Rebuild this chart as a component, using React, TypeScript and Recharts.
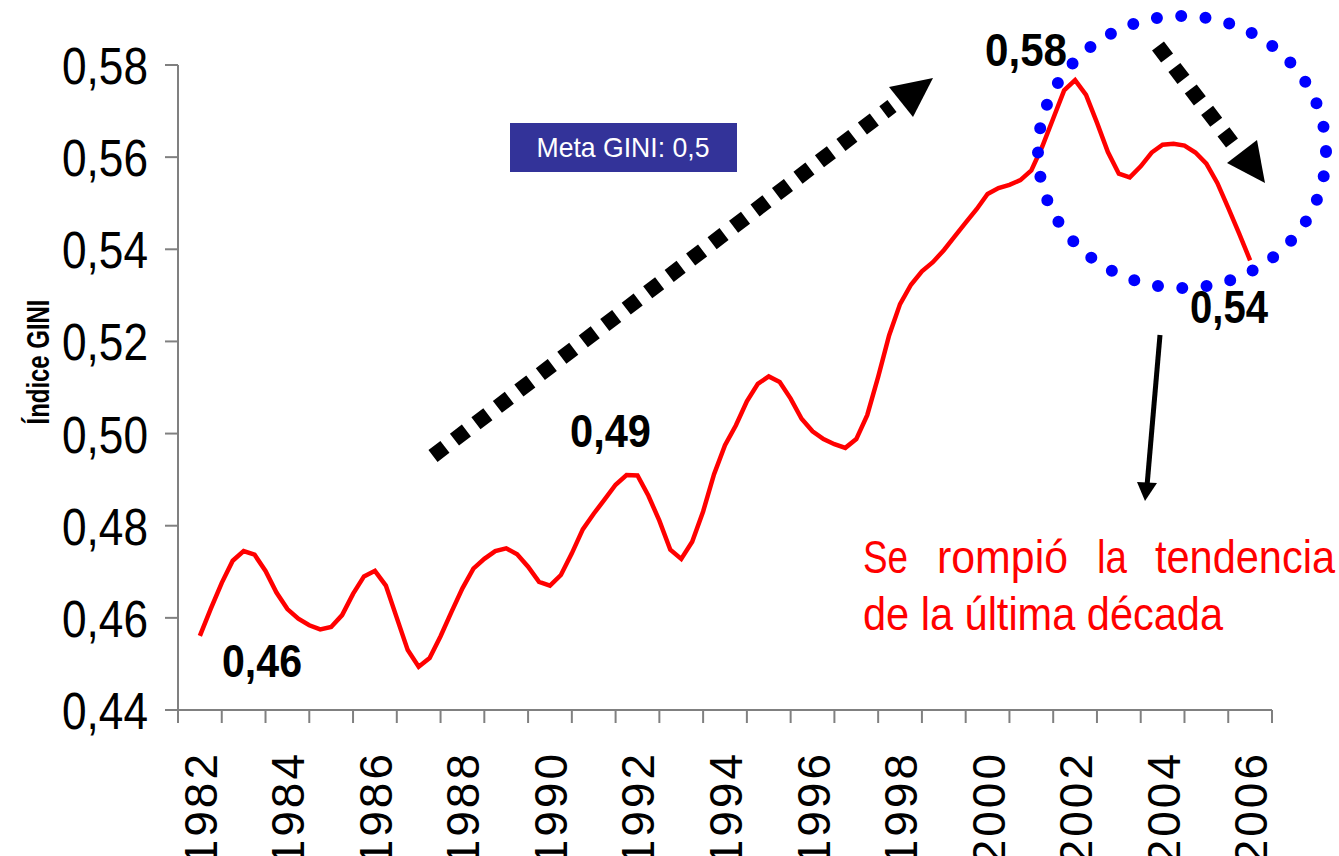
import React from 'react';
import { LineChart, Line, XAxis, YAxis } from 'recharts';

// Índice GINI, quarterly readings 1982 Q1 .. 2006 Q1
const startYear = 1982;
const pointsPerYear = 4;
const giniValues = [
  0.4561, 0.4620, 0.4676, 0.4724, // 1982
  0.4745, 0.4737, 0.4702, 0.4655, // 1983
  0.4619, 0.4598, 0.4584, 0.4575, // 1984
  0.4580, 0.4606, 0.4652, 0.4690, // 1985
  0.4702, 0.4670, 0.4600, 0.4530, // 1986
  0.4494, 0.4513, 0.4560, 0.4613, // 1987
  0.4664, 0.4707, 0.4728, 0.4745, // 1988
  0.4751, 0.4738, 0.4711, 0.4678, // 1989
  0.4670, 0.4693, 0.4740, 0.4792, // 1990
  0.4826, 0.4857, 0.4889, 0.4910, // 1991
  0.4909, 0.4865, 0.4811, 0.4748, // 1992
  0.4728, 0.4765, 0.4831, 0.4912, // 1993
  0.4975, 0.5018, 0.5070, 0.5108, // 1994
  0.5124, 0.5112, 0.5076, 0.5032, // 1995
  0.5005, 0.4988, 0.4977, 0.4969, // 1996
  0.4988, 0.5040, 0.5123, 0.5213, // 1997
  0.5281, 0.5323, 0.5352, 0.5372, // 1998
  0.5398, 0.5428, 0.5458, 0.5487, // 1999
  0.5520, 0.5533, 0.5540, 0.5550, // 2000
  0.5571, 0.5623, 0.5684, 0.5745, // 2001
  0.5767, 0.5735, 0.5675, 0.5611, // 2002
  0.5564, 0.5556, 0.5580, 0.5610, // 2003
  0.5627, 0.5629, 0.5625, 0.5610, // 2004
  0.5586, 0.5544, 0.5490, 0.5434, // 2005
  0.5376, // 2006
];

const years = [
  1982, 1983, 1984, 1985, 1986, 1987, 1988, 1989, 1990, 1991, 1992, 1993, 1994,
  1995, 1996, 1997, 1998, 1999, 2000, 2001, 2002, 2003, 2004, 2005, 2006,
];
const yearLabels = [1982, 1984, 1986, 1988, 1990, 1992, 1994, 1996, 1998, 2000, 2002, 2004, 2006];
const giniTicks = [0.44, 0.46, 0.48, 0.5, 0.52, 0.54, 0.56, 0.58];

const data = giniValues.map((v, i) => ({ t: startYear + i / pointsPerYear, gini: v }));
// tick marks sit between the years
const yearBounds = [...years.map(y => y - 0.5), years[years.length - 1] + 0.5];

const FONT = '"Liberation Sans", Arial, sans-serif';
const AXIS = '#808080';

const YTick = (props: any) => {
  const { x, y, payload } = props;
  return (
    <text x={x} y={y + 19} textAnchor="end" fontFamily={FONT} fontSize={52} fill="#000"
      textLength={86} lengthAdjust="spacingAndGlyphs">
      {payload.value.toFixed(2).replace('.', ',')}
    </text>
  );
};

const XTick = (props: any) => {
  const { x, payload } = props;
  const tx = x + 17;
  const ty = 751;
  return (
    <text x={tx} y={ty} transform={`rotate(-90, ${tx}, ${ty})`} textAnchor="end"
      fontFamily={FONT} fontSize={46} letterSpacing={3} fill="#000">
      {payload.value}
    </text>
  );
};

const NoLabel = () => <g />;

const Bold = ({ x, y, w, children }: any) => (
  <text x={x} y={y} fontFamily={FONT} fontWeight="bold" fontSize={46} fill="#000"
    textLength={w} lengthAdjust="spacingAndGlyphs">{children}</text>
);

const RedWord = ({ x, y, w, children }: any) => (
  <text x={x} y={y} fontFamily={FONT} fontSize={46} fill="#FF0000"
    textLength={w} lengthAdjust="spacingAndGlyphs">{children}</text>
);

export default function App() {
  return (
    <div style={{ position: 'absolute', left: 0, top: 0, width: 1339, height: 856, background: '#fff' }}>
      <LineChart width={1339} height={856} data={data}
        margin={{ top: 65, right: 67, left: 0, bottom: 0 }}>
        <XAxis xAxisId="grid" dataKey="t" type="number" domain={[1981.5, 2006.5]}
          ticks={yearBounds} tick={<NoLabel />} tickSize={13} height={1} interval={0}
          axisLine={{ stroke: AXIS, strokeWidth: 2 }} tickLine={{ stroke: AXIS, strokeWidth: 2 }} />
        <XAxis xAxisId="years" dataKey="t" type="number" domain={[1981.5, 2006.5]}
          ticks={yearLabels} interval={0} axisLine={false} tickLine={false} height={145}
          tick={<XTick />} />
        <YAxis domain={[0.44, 0.58]} ticks={giniTicks} width={178} tickSize={13} tickMargin={17}
          axisLine={{ stroke: AXIS, strokeWidth: 2 }} tickLine={{ stroke: AXIS, strokeWidth: 2 }}
          tick={<YTick />} interval={0} />
        <Line xAxisId="grid" type="linear" dataKey="gini" stroke="#FF0000" strokeWidth={4.5}
          dot={false} isAnimationActive={false} />
      </LineChart>

      <svg width={1339} height={856} style={{ position: 'absolute', left: 0, top: 0, pointerEvents: 'none' }}>
        {/* axis title */}
        <text x={49} y={362} transform="rotate(-90, 49, 362)" textAnchor="middle" fontFamily={FONT}
          fontWeight="bold" fontSize={31} fill="#000" textLength={125} lengthAdjust="spacingAndGlyphs">
          Índice GINI
        </text>

        {/* target box */}
        <rect x={510} y={123} width={227} height={49} fill="#333399" />
        <text x={623} y={157} textAnchor="middle" fontFamily={FONT} fontSize={28} fill="#fff"
          textLength={173} lengthAdjust="spacingAndGlyphs">Meta GINI: 0,5</text>

        {/* rising trend arrow */}
        <line x1={433} y1={456} x2={892} y2={106} stroke="#000" strokeWidth={15} strokeDasharray="15 12" />
        <polygon points="889,87 933,78 913,117" fill="#000" />

        {/* falling trend arrow */}
        <line x1={1158} y1={46} x2={1232} y2={143} stroke="#000" strokeWidth={15} strokeDasharray="15 12" />
        <polygon points="1227,163 1257,140 1265,183" fill="#000" />

        {/* highlight circle */}
        <ellipse cx={1182} cy={152} rx={144} ry={136} fill="none" stroke="#0000FF" strokeWidth={12}
          strokeLinecap="round" strokeDasharray="0 24.4" />

        {/* pointer to note */}
        <line x1={1160} y1={335} x2={1147} y2={486} stroke="#000" strokeWidth={5} />
        <polygon points="1137,482 1157,483 1145,501" fill="#000" />

        {/* value callouts */}
        <Bold x={222} y={677} w={80}>0,46</Bold>
        <Bold x={570} y={447} w={81}>0,49</Bold>
        <Bold x={985} y={66} w={82}>0,58</Bold>
        <Bold x={1190} y={323} w={78}>0,54</Bold>

        {/* note */}
        <RedWord x={863} y={573} w={45}>Se</RedWord>
        <RedWord x={937} y={573} w={131}>rompió</RedWord>
        <RedWord x={1097} y={573} w={30}>la</RedWord>
        <RedWord x={1155} y={573} w={180}>tendencia</RedWord>
        <RedWord x={863} y={630} w={360}>de la última década</RedWord>
      </svg>
    </div>
  );
}
